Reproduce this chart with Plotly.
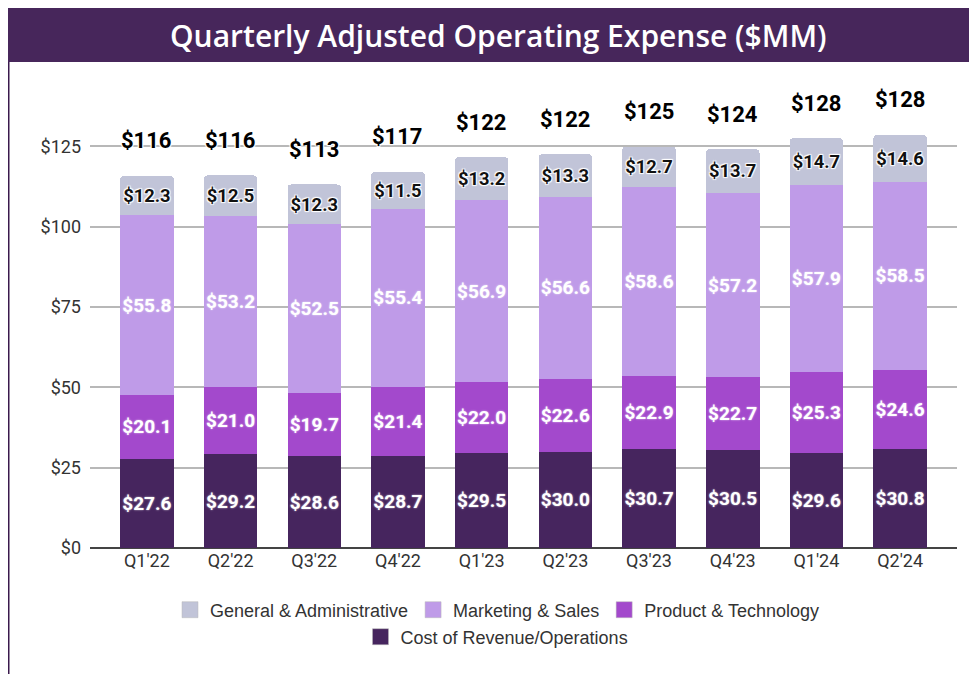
import plotly.graph_objects as go

quarters = ["Q1'22", "Q2'22", "Q3'22", "Q4'22", "Q1'23", "Q2'23", "Q3'23", "Q4'23", "Q1'24", "Q2'24"]
cost_rev = [27.6, 29.2, 28.6, 28.7, 29.5, 30.0, 30.7, 30.5, 29.6, 30.8]
prod_tech = [20.1, 21.0, 19.7, 21.4, 22.0, 22.6, 22.9, 22.7, 25.3, 24.6]
mkt_sales = [55.8, 53.2, 52.5, 55.4, 56.9, 56.6, 58.6, 57.2, 57.9, 58.5]
gen_admin = [12.3, 12.5, 12.3, 11.5, 13.2, 13.3, 12.7, 13.7, 14.7, 14.6]
totals = [116, 116, 113, 117, 122, 122, 125, 124, 128, 128]
ytick_vals = [0, 25, 50, 75, 100, 125]
ytick_text = ["$0", "$25", "$50", "$75", "$100", "$125"]

C_COST = "#46255e"
C_PROD = "#a349cc"
C_MKT = "#bf9be8"
C_GA = "#c1c4d8"

halo_w = "1px 1px 1px #fff, -1px -1px 1px #fff, 1px -1px 1px #fff, -1px 1px 1px #fff"
halo_soft = "0 0 2px rgba(255,255,255,0.7)"

series = [
    ("Cost of Revenue/Operations", cost_rev, C_COST, "white", halo_soft),
    ("Product & Technology", prod_tech, C_PROD, "white", halo_soft),
    ("Marketing & Sales", mkt_sales, C_MKT, "white", halo_soft),
    ("General & Administrative", gen_admin, C_GA, "#111111", halo_w),
]

fig = go.Figure()
for name, vals, col, tcol, sh in series:
    fig.add_trace(go.Bar(
        x=quarters, y=vals, name=name, showlegend=False,
        marker=dict(color=col, line=dict(width=0)),
        text=["$%.1f" % v for v in vals],
        textposition="inside", insidetextanchor="middle", textangle=0,
        constraintext="none",
        textfont=dict(family="Roboto", size=19, color=tcol, weight="bold", shadow=sh),
        hoverinfo="skip",
    ))

leg_rows = {
    "General & Administrative": "legend",
    "Marketing & Sales": "legend",
    "Product & Technology": "legend",
    "Cost of Revenue/Operations": "legend2",
}
for name, vals, col, tcol, sh in reversed(series):
    fig.add_trace(go.Scatter(
        x=[None], y=[None], mode="markers", name=name,
        marker=dict(symbol="square", size=20, color=col, line=dict(width=0.5, color="#bbbbbb")),
        legend=leg_rows[name], showlegend=True,
    ))

stack_tops = [a + b + c + d for a, b, c, d in zip(cost_rev, prod_tech, mkt_sales, gen_admin)]
for q, top, t in zip(quarters, stack_tops, totals):
    fig.add_annotation(
        x=q, y=top, text="$%d" % t, showarrow=False, yshift=35,
        font=dict(family="Roboto", size=22, color="#000000", weight="bold", shadow=halo_w),
        xanchor="center", yanchor="middle",
    )

# page offset (body margin) = 8px
OFF = 8
W, H = 969, 666
L = 90 - OFF
R = W - (957 - OFF)
T = 98 - OFF
B = H - (548 - OFF)
pw, ph = W - L - R, H - T - B
def px_x(p):
    return (p - OFF - L) / pw
def px_y(p):
    return (H - B - (p - OFF)) / ph

fig.add_shape(type="rect", xref="paper", yref="paper",
              x0=px_x(6), x1=px_x(990), y0=px_y(62), y1=px_y(8),
              fillcolor="#47265b", line=dict(width=0), layer="below")
fig.add_shape(type="line", xref="paper", yref="paper",
              x0=px_x(8.5), x1=px_x(8.5), y0=px_y(62), y1=px_y(690),
              line=dict(color="#3a1a4d", width=2))
fig.add_annotation(xref="paper", yref="paper", x=px_x(498), y=px_y(35),
                   text="Quarterly Adjusted Operating Expense ($MM)", showarrow=False,
                   font=dict(family="Open Sans", size=30, color="white", weight=600),
                   xanchor="center", yanchor="middle")

fig.update_layout(
    width=W, height=H,
    margin=dict(l=L, r=R, t=T, b=B),
    paper_bgcolor="white", plot_bgcolor="white",
    barmode="stack", bargap=0.36, barcornerradius=4,
    font=dict(family="Roboto", color="#333333"),
    xaxis=dict(range=[-0.68, 9.68], showgrid=False, tickfont=dict(size=18, color="#333333"),
               ticks="", showline=False, zeroline=False, fixedrange=True),
    yaxis=dict(range=[0, 140], tickvals=ytick_vals, ticktext=ytick_text,
               tickfont=dict(size=18, color="#333333"), showgrid=True,
               gridcolor="#b8b8b8", gridwidth=1.5, zeroline=True, zerolinecolor="#444444",
               zerolinewidth=1.5, ticklabelstandoff=8, fixedrange=True),
    legend=dict(orientation="h", x=px_x(497), y=px_y(610), xanchor="center", yanchor="middle",
                traceorder="normal",
                font=dict(family="Liberation Sans", size=18, color="#333333"),
                bgcolor="rgba(0,0,0,0)"),
    legend2=dict(orientation="h", x=px_x(497), y=px_y(637), xanchor="center", yanchor="middle",
                 traceorder="normal",
                 font=dict(family="Liberation Sans", size=18, color="#333333"),
                 bgcolor="rgba(0,0,0,0)"),
)

fig.write_html("out.html")
